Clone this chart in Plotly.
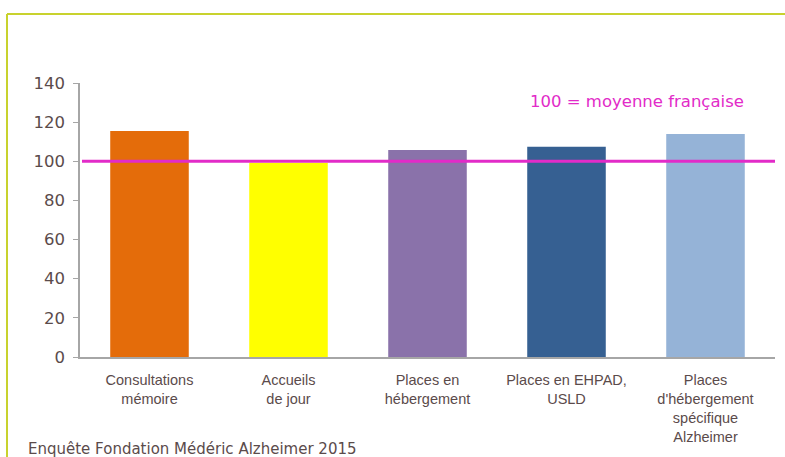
import plotly.graph_objects as go

categories = ["Consultations<br>mémoire", "Accueils<br>de jour", "Places en<br>hébergement",
              "Places en EHPAD,<br>USLD", "Places<br>d'hébergement<br>spécifique<br>Alzheimer"]
values = [115.5, 99.3, 105.8, 107.4, 114]
colors = ["#E46C0A", "#FFFF00", "#8A72AA", "#366092", "#95B3D7"]
reference_value = 100
y_ticks = [0, 20, 40, 60, 80, 100, 120, 140]

W, H = 785, 457
L, R, T, B = 80, 10, 83, 100
pw, ph = W - L - R, H - T - B

def px(x):
    return (x - L) / pw

def py(y):
    return (H - B - y) / ph

fig = go.Figure()
fig.add_trace(go.Bar(
    x=categories, y=values, marker=dict(color=colors, line=dict(width=0)),
    width=0.565, hoverinfo="skip"))

fig.update_layout(
    width=W, height=H,
    margin=dict(l=L, r=R, t=T, b=B, autoexpand=False),
    plot_bgcolor="white", paper_bgcolor="white",
    showlegend=False,
    xaxis=dict(showline=True, linecolor="#A6A6A6", linewidth=2, ticks="",
               ticklabelstandoff=9,
               tickfont=dict(family="Liberation Sans Narrow, Liberation Sans, sans-serif", size=14.5, color="#5B4B4B"),
               range=[-0.5, 4.5]),
    yaxis=dict(range=[0, 140], tickvals=y_ticks, showgrid=False, zeroline=False,
               showline=True, linecolor="#A6A6A6", linewidth=1.5,
               ticks="outside", ticklen=5, tickcolor="#A6A6A6",
               ticklabelstandoff=5,
               tickfont=dict(family="DejaVu Sans, sans-serif", size=16.5, color="#5B4B4B")),
    shapes=[
        dict(type="line", xref="paper", yref="y", x0=px(82), x1=px(775),
             y0=reference_value, y1=reference_value, line=dict(color="#E22BC8", width=3)),
        dict(type="line", xref="paper", yref="paper", x0=px(7), x1=px(800),
             y0=py(14), y1=py(14), line=dict(color="#C8D22E", width=2)),
        dict(type="line", xref="paper", yref="paper", x0=px(7), x1=px(7),
             y0=py(14), y1=py(470), line=dict(color="#C8D22E", width=2)),
    ],
    annotations=[
        dict(text="100 = moyenne française", xref="paper", yref="paper",
             x=px(637), y=py(101), showarrow=False, xanchor="center", yanchor="middle",
             font=dict(family="DejaVu Sans, sans-serif", size=16.5, color="#E22BC8")),
        dict(text="Enquête Fondation Médéric Alzheimer 2015", xref="paper", yref="paper",
             x=px(26), y=py(449), showarrow=False, xanchor="left", yanchor="middle",
             font=dict(family="DejaVu Sans, sans-serif", size=15, color="#5B4B4B")),
    ],
)

fig.write_html("out.html", config={"displayModeBar": False},
               post_script="document.body.style.margin='0';document.body.style.overflow='hidden';")
